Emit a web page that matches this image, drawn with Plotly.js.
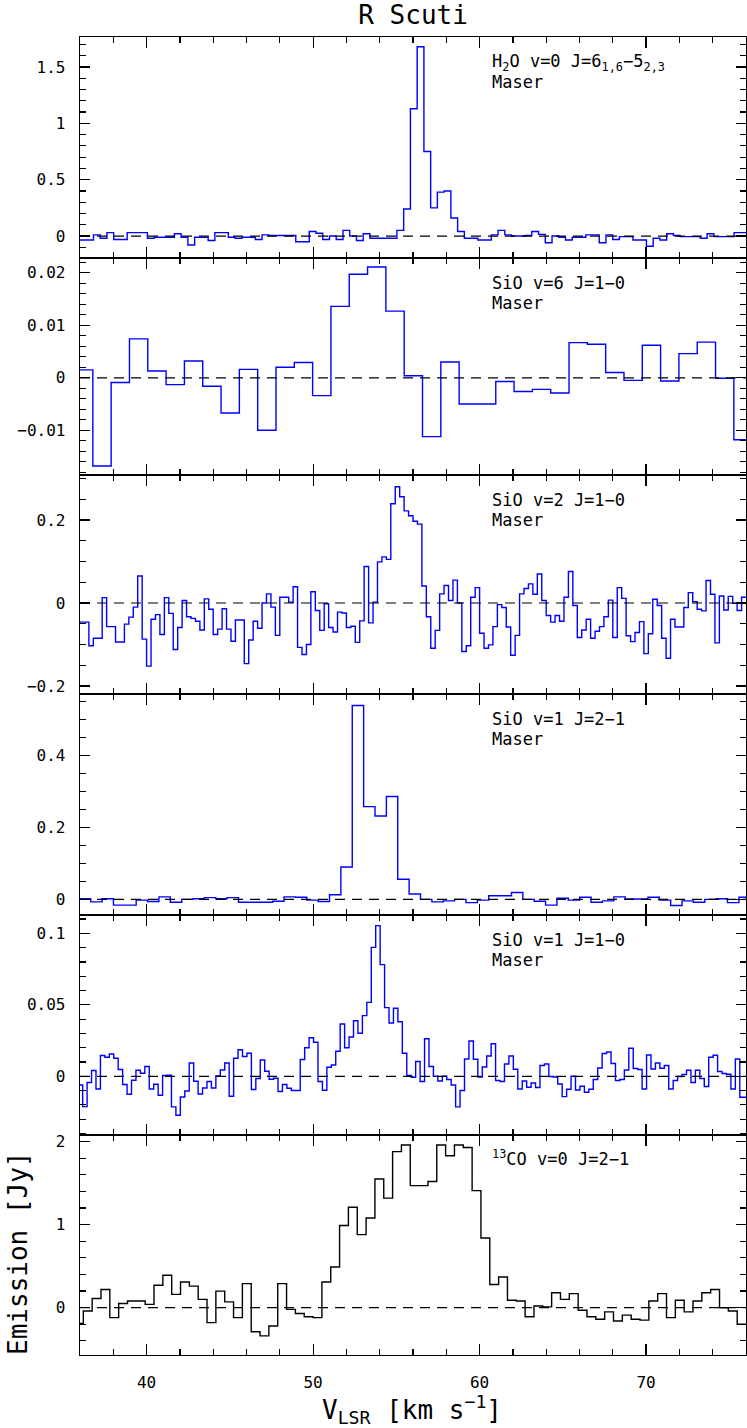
<!DOCTYPE html>
<html>
<head>
<meta charset="utf-8">
<script src="https://cdn.plot.ly/plotly-3.0.1.min.js"></script>
<style>
  body { margin: 0; background: #fff; }
  #plot { width: 747px; height: 1428px; }
</style>
</head>
<body>
<div id="plot"></div>
<script>
// R Scuti spectra, six stacked panels sharing the velocity axis
// each spectrum: first channel edge (km/s), channel width (km/s), flux per channel (Jy)

var velRange = [36, 76];

// H2O v=0 J=6(1,6)-5(2,3) maser
var h2oStart = 36.0;
var h2oWidth = 0.405;
var h2oFlux = [-0.035,-0.035,0.01,-0.02,0.03,-0.03,-0.03,0.03,0.03,0.03,
  -0.02,-0.01,-0.01,-0.01,0.02,-0.01,-0.08,-0.01,-0.01,-0.04,
  0.03,0.03,-0.01,-0.02,-0.01,-0.01,-0.03,0.01,0.005,0.005,
  0.005,0.005,-0.05,-0.05,0.04,0.025,-0.03,0.0,-0.03,0.05,
  0.0,-0.04,0.02,-0.02,-0.02,-0.02,-0.02,0.05,0.24,1.13,
  1.68,0.75,0.25,0.39,0.40,0.16,0.04,-0.02,-0.02,-0.035,
  -0.035,0.01,0.05,0.01,0.0,0.0,0.005,0.04,0.015,-0.06,
  0.0,-0.01,-0.035,-0.01,-0.01,0.01,0.01,-0.06,0.01,-0.03,
  -0.005,-0.005,-0.035,-0.035,-0.09,-0.02,-0.035,0.02,0.005,-0.005,
  -0.005,-0.005,-0.02,0.02,-0.005,-0.005,-0.005,0.03,0.03];

// SiO v=6 J=1-0 maser
var sio6Start = 35.671;
var sio6Width = 1.1;
var sio6Flux = [0.0015,-0.0168,-0.0009,0.0074,0.0013,-0.0013,0.0032,-0.0016,-0.0067,0.0016,
  -0.0100,0.0020,0.0029,-0.0034,0.0136,0.0197,0.0211,0.0127,0.0004,-0.0112,
  0.0030,-0.0050,-0.0050,-0.0007,-0.0026,-0.0022,-0.0029,0.0067,0.0064,0.0010,
  -0.0005,0.0062,-0.0006,0.0046,0.0068,-0.0001,-0.0118];

// SiO v=2 J=1-0 maser
var sio2Start = 36.0;
var sio2Width = 0.26667;
var sio2Flux = [-0.046,-0.046,-0.103,-0.085,-0.085,0.013,-0.057,-0.057,-0.094,-0.094,
  -0.051,-0.034,-0.010,0.065,-0.087,-0.152,-0.039,-0.028,-0.076,0.013,
  -0.025,-0.112,-0.059,0.006,-0.033,-0.037,-0.044,-0.065,0.010,-0.015,
  -0.076,-0.063,-0.014,-0.063,-0.092,-0.041,-0.041,-0.146,-0.089,-0.044,
  -0.061,0.0,0.022,-0.010,-0.078,0.014,0.014,0.002,0.039,-0.107,
  -0.124,-0.10,0.027,-0.018,-0.066,-0.002,-0.059,-0.07,-0.022,-0.024,
  -0.059,-0.056,-0.095,-0.043,0.088,-0.048,0.002,0.099,0.111,0.105,
  0.239,0.28,0.256,0.222,0.21,0.197,0.19,0.041,-0.033,-0.109,
  -0.066,0.022,0.042,0.006,0.055,0.0,-0.117,-0.103,0.014,0.037,
  -0.073,-0.109,-0.101,-0.057,-0.004,-0.011,-0.058,-0.126,-0.078,0.022,
  0.035,0.046,0.021,0.070,0.006,-0.03,-0.046,-0.03,-0.044,0.014,
  0.076,-0.006,-0.083,-0.065,-0.039,-0.085,-0.068,-0.057,-0.033,0.007,
  -0.083,0.037,0.011,-0.079,-0.093,-0.071,-0.045,-0.122,-0.074,0.009,
  -0.006,-0.085,-0.133,-0.039,-0.058,-0.058,-0.011,0.025,0.003,-0.015,
  -0.019,0.054,0.021,-0.096,0.017,-0.017,0.016,-0.001,-0.018,0.014];

// SiO v=1 J=2-1 maser
var sio1hStart = 35.96;
var sio1hWidth = 0.683;
var sio1hFlux = [0.002,-0.007,0.002,-0.016,-0.016,-0.002,-0.006,0.007,-0.008,0.0,
  0.002,0.005,0.002,0.005,-0.008,-0.008,-0.008,-0.005,0.007,0.006,
  -0.002,-0.006,0.013,0.09,0.539,0.258,0.232,0.286,0.056,0.015,
  0.0,-0.007,-0.004,0.0,-0.009,-0.002,0.010,0.010,0.019,0.0,
  -0.005,-0.016,0.003,-0.002,0.006,-0.008,-0.004,0.007,0.001,0.001,
  0.006,-0.002,-0.017,-0.004,-0.008,0.0,0.002,-0.009,0.006];

// SiO v=1 J=1-0 maser
var sio1lStart = 35.893;
var sio1lWidth = 0.26667;
var sio1lFlux = [-0.0061,-0.0212,-0.0044,0.0040,-0.0089,0.0145,0.0133,0.0156,0.0126,0.0047,
  -0.0058,-0.0126,-0.0028,0.0042,0.0021,0.0068,-0.0089,-0.0056,-0.0133,0.0005,
  0.0007,-0.0214,-0.0273,-0.0145,-0.0103,0.0093,-0.0035,-0.0124,-0.0082,-0.0037,
  -0.0082,0.0002,0.0044,0.0093,-0.0140,0.0126,0.0186,0.0138,0.0161,-0.0093,
  -0.0016,0.0114,0.0035,-0.0021,-0.0014,-0.0107,-0.0058,-0.0084,-0.0100,-0.0100,
  0.0117,0.0200,0.0270,0.0238,-0.0037,-0.0098,0.0063,0.0079,0.0175,0.0366,
  0.0200,0.0275,0.0389,0.0301,0.0424,0.0517,0.0902,0.1054,0.0781,0.0480,
  0.0373,0.0476,0.0382,0.0161,0.0005,-0.0007,0.0103,-0.0037,0.0263,0.0068,
  0.0,-0.0033,0.0,-0.0023,-0.0061,-0.0214,-0.0100,0.0121,0.0247,0.0119,
  -0.0005,0.0065,0.0142,0.0228,-0.0030,-0.0037,0.0086,0.0142,0.0049,-0.0089,
  -0.0033,-0.0077,-0.0047,-0.0079,0.0075,0.0086,-0.0002,-0.0005,-0.0054,-0.0142,
  -0.0091,0.0,-0.0096,-0.0070,-0.0112,-0.0091,-0.0023,0.0058,0.0159,0.0170,
  0.0089,-0.0030,-0.0023,0.0044,0.0196,0.0054,0.0047,-0.0089,0.0149,0.0051,
  0.0093,0.0056,0.0075,-0.0089,-0.0030,-0.0002,0.0012,0.0042,-0.0044,0.0042,
  -0.0016,-0.0072,0.0133,0.0147,0.0033,0.0019,0.0014,-0.0089,0.0121,-0.0147,
  -0.0147];

// 13CO v=0 J=2-1
var coStart = 35.669;
var coWidth = 0.5307;
var coFlux = [-0.19,-0.04,0.11,0.22,-0.12,0.05,0.08,0.08,0.04,0.27,
  0.39,0.16,0.31,0.26,0.10,-0.18,0.20,0.07,-0.12,0.29,
  -0.29,-0.34,-0.22,0.29,-0.02,-0.07,-0.11,-0.12,0.31,0.49,
  0.99,1.21,0.88,1.08,1.55,1.32,1.88,1.96,1.47,1.47,
  1.52,1.96,1.83,1.96,1.93,1.41,0.84,0.28,0.37,0.09,
  0.08,-0.11,0.02,0.01,0.18,0.10,0.17,-0.03,-0.11,-0.14,
  -0.05,-0.16,-0.09,-0.14,-0.15,0.08,0.17,-0.12,0.09,-0.05,
  0.08,0.18,0.22,0.0,-0.04,-0.20];

var panelLabels = [
  ['H<sub>2</sub>O v=0 J=6<sub>1,6</sub>−5<sub>2,3</sub>', 'Maser'],
  ['SiO v=6 J=1−0', 'Maser'],
  ['SiO v=2 J=1−0', 'Maser'],
  ['SiO v=1 J=2−1', 'Maser'],
  ['SiO v=1 J=1−0', 'Maser'],
  ['<sup>13</sup>CO v=0 J=2−1']
];

var spectra = [
  {start: h2oStart, width: h2oWidth, flux: h2oFlux, color: 'blue'},
  {start: sio6Start, width: sio6Width, flux: sio6Flux, color: 'blue'},
  {start: sio2Start, width: sio2Width, flux: sio2Flux, color: 'blue'},
  {start: sio1hStart, width: sio1hWidth, flux: sio1hFlux, color: 'blue'},
  {start: sio1lStart, width: sio1lWidth, flux: sio1lFlux, color: 'blue'},
  {start: coStart, width: coWidth, flux: coFlux, color: 'black'}
];

// y ranges and tick spacing per panel
var yRanges = [[-0.195, 1.766], [-0.0185, 0.0228], [-0.2193, 0.3084],
               [-0.0435, 0.571], [-0.0411, 0.1128], [-0.57, 2.08]];
var yMajor = [0.5, 0.01, 0.2, 0.2, 0.05, 1];
var yMinor = [0.1, 0.002, 0.05, 0.05, 0.01, 0.2];

var domains = [[0.8323, 1], [0.6677, 0.8323], [0.5015, 0.6677],
               [0.3338, 0.5015], [0.1669, 0.3338], [0, 0.1669]];

var font = 'DejaVu Sans Mono, monospace';

var data = [];
var layout = {
  width: 747,
  height: 1428,
  margin: {l: 80, r: 1, t: 37, b: 73},
  paper_bgcolor: 'white',
  plot_bgcolor: 'white',
  showlegend: false,
  font: {family: font, color: 'black', size: 16},
  title: {
    text: 'R Scuti',
    font: {family: font, size: 26, color: 'black'},
    xref: 'container', yref: 'container',
    x: 0.553, xanchor: 'center', y: 0.9898, yanchor: 'middle'
  },
  shapes: [],
  annotations: []
};

spectra.forEach(function(s, i) {
  var n = i === 0 ? '' : String(i + 1);
  // step edges: left edge of every channel, plus the right edge of the last
  var xs = [], ys = [];
  for (var k = 0; k < s.flux.length; k++) {
    xs.push(s.start + k * s.width);
    ys.push(s.flux[k]);
  }
  xs.push(s.start + s.flux.length * s.width);
  ys.push(s.flux[s.flux.length - 1]);

  data.push({
    x: xs, y: ys,
    xaxis: 'x' + n, yaxis: 'y' + n,
    type: 'scatter', mode: 'lines',
    line: {shape: 'hv', color: s.color, width: 1.4},
    hoverinfo: 'x+y'
  });

  layout['xaxis' + n] = {
    domain: [0, 1],
    anchor: 'y' + n,
    matches: i === 0 ? undefined : 'x',
    range: velRange,
    showline: true, linecolor: 'black', linewidth: 1.3,
    mirror: 'allticks',
    ticks: 'inside', ticklen: 11, tickwidth: 1.2, tickcolor: 'black',
    tick0: 0, dtick: 10,
    minor: {dtick: 2, ticklen: 6, tickwidth: 1.2, tickcolor: 'black', ticks: 'inside'},
    showgrid: false, zeroline: false,
    showticklabels: i === 5,
    ticklabelstandoff: 12,
    tickfont: {family: font, size: 16, color: 'black'}
  };

  layout['yaxis' + n] = {
    domain: domains[i],
    anchor: 'x' + n,
    range: yRanges[i],
    showline: true, linecolor: 'black', linewidth: 1.3,
    mirror: 'allticks',
    ticks: 'inside', ticklen: 10, tickwidth: 1.2, tickcolor: 'black',
    tick0: 0, dtick: yMajor[i],
    minor: {dtick: yMinor[i], ticklen: 6, tickwidth: 1.2, tickcolor: 'black', ticks: 'inside'},
    showgrid: false, zeroline: false,
    ticklabelstandoff: 10,
    tickfont: {family: font, size: 16, color: 'black'}
  };

  // dashed zero level across the panel
  layout.shapes.push({
    type: 'line', xref: 'x' + n + ' domain', yref: 'y' + n,
    x0: 0, x1: 1, y0: 0, y1: 0,
    line: {color: 'black', width: 1.2, dash: '10px,7px'}
  });

  panelLabels[i].forEach(function(txt, j) {
    layout.annotations.push({
      text: txt,
      xref: 'paper', x: 0.6156, xanchor: 'left',
      yref: 'y' + n + ' domain', y: (i === 5 ? 0.895 : 0.886) - j * 0.091, yanchor: 'middle',
      showarrow: false,
      font: {family: font, size: 17, color: 'black'}
    });
  });
});

// axis titles
layout.annotations.push({
  text: 'V<sub>LSR</sub> [km s<sup>−1</sup>]',
  xref: 'paper', x: 0.4985, xanchor: 'center',
  yref: 'paper', y: -0.0415, yanchor: 'middle',
  showarrow: false,
  font: {family: font, size: 26, color: 'black'}
});
layout.annotations.push({
  text: 'Emission [Jy]',
  textangle: -90,
  xref: 'paper', x: -0.0931, xanchor: 'center',
  yref: 'paper', y: 0.0774, yanchor: 'middle',
  showarrow: false,
  font: {family: font, size: 26, color: 'black'}
});

Plotly.newPlot('plot', data, layout, {displayModeBar: false, staticPlot: true});
</script>
</body>
</html>
